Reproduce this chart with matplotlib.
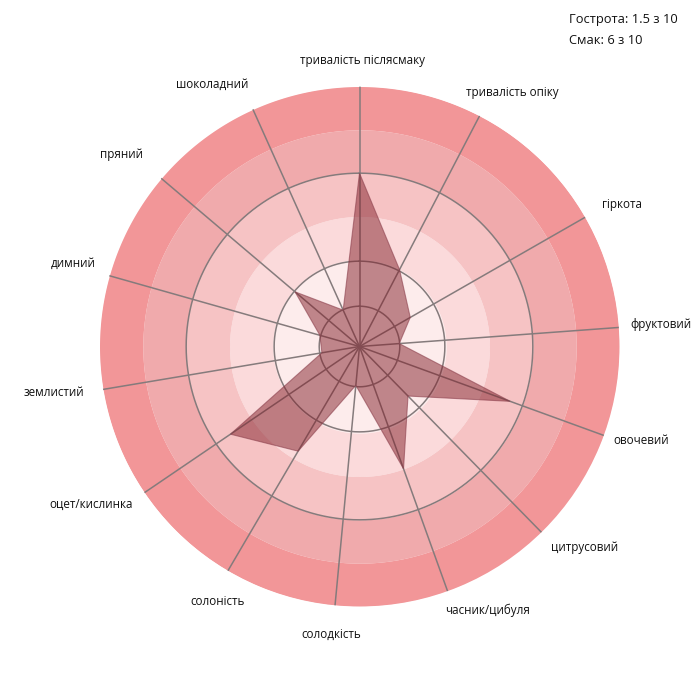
import numpy as np
import matplotlib
matplotlib.use("Agg")
import matplotlib.pyplot as plt

plt.rcParams['font.family'] = ['Open Sans', 'DejaVu Sans']

categories = ["тривалість післясмаку", "тривалість опіку", "гіркота", "фруктовий",
              "овочевий", "цитрусовий", "часник/цибуля", "солодкість", "солоність",
              "оцет/кислинка", "землистий", "димний", "пряний", "шоколадний"]
values = [4.0, 2.0, 1.35, 0.92, 3.7, 1.6, 3.0, 0.9, 2.8, 3.6, 0.88, 0.95, 1.95, 0.92]
spoke_angles_deg = [0, 27.5, 60.2, 85.8, 110.0, 135.6, 160.2, 185.4, 210.4,
                    235.8, 260.5, 285.8, 310.3, 335.8]
label_angles_deg = [0.7, 31.0, 61.7, 85.9, 108.4, 131.8, 154.1, 185.7, 209.0,
                    239.5, 261.5, 286.1, 308.9, 330.6]
label_radii = [6.59, 6.83, 6.89, 6.98, 6.85, 6.96, 6.78, 6.67, 6.74,
               7.2, 7.14, 6.88, 7.05, 6.93]
band_edges = [0, 2, 3, 4, 5, 6]
band_colors = ["#FDECEC", "#FBDADB", "#F6C3C4", "#F0AAAC", "#F29698"]
grid_circles = [0.93, 1.97, 4.0]
info_lines = ["Гострота: 1.5 з 10", "Смак: 6 з 10"]

W, H = 700, 686
fig = plt.figure(figsize=(W / 100, H / 100), dpi=100)
cx, cy, R = 359.5, 346.5, 260
ax = fig.add_axes([(cx - R) / W, (H - cy - R) / H, 2 * R / W, 2 * R / H], projection='polar')
ax.set_theta_zero_location('N')
ax.set_theta_direction(-1)
ax.set_ylim(0, 6)
ax.axis('off')

th = np.linspace(0, 2 * np.pi, 721)
for r0, r1, c in zip(band_edges[:-1], band_edges[1:], band_colors):
    ax.fill_between(th, r0, r1, color=c, lw=0, zorder=1)

angles = np.deg2rad(spoke_angles_deg)
for a in angles:
    ax.plot([a, a], [0, 6], color="#857b7c", lw=1.1, zorder=2)
for r in grid_circles:
    ax.plot(th, np.full_like(th, r), color="#857b7c", lw=1.1, zorder=2)

pa = np.append(angles, angles[0])
pv = np.append(values, values[0])
ax.fill(pa, pv, facecolor=(0.51, 0.12, 0.16, 0.5), edgecolor=(0.55, 0.25, 0.3, 0.6),
        lw=0.8, zorder=3)

for a, rr, lab in zip(np.deg2rad(label_angles_deg), label_radii, categories):
    ax.text(a, rr, lab, ha='center', va='center', fontsize=8.4, color="#111111")

for i, line in enumerate(info_lines):
    fig.text(569 / W, 1 - (20 + 21 * i) / H, line, ha='left', va='center',
             fontsize=9.3, color="#111111")

fig.savefig("out.png", dpi=100)
